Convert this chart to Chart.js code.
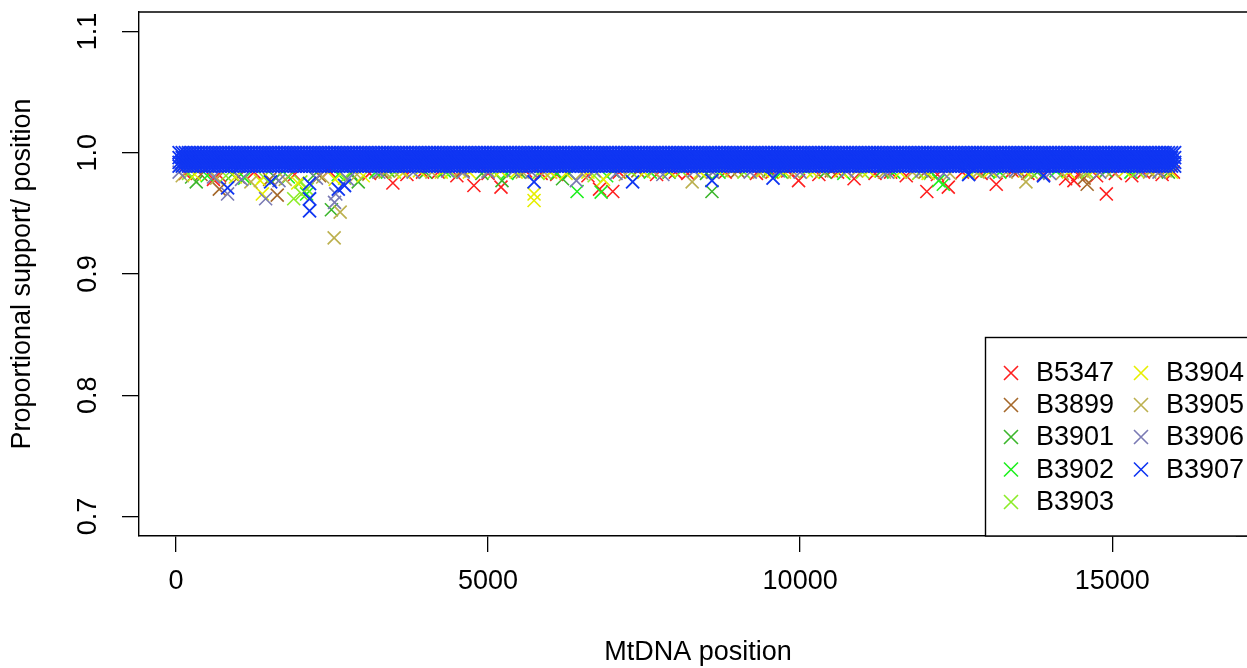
<!DOCTYPE html>
<html>
<head>
<meta charset="utf-8">
<script src="https://cdn.jsdelivr.net/npm/chart.js@4.4.0/dist/chart.umd.min.js"></script>
<style>
html,body{margin:0;padding:0;overflow:hidden;background:#fff;}
#chart{display:block;}
</style>
</head>
<body>
<canvas id="chart" width="1247" height="668"></canvas>
<script>
// Samples + colours
const samples = ["B5347","B3899","B3901","B3902","B3903","B3904","B3905","B3906","B3907"];
const colors = ["#ff1f1f","#a5682a","#3cb62c","#1ff01f","#8cec28","#e6ee00","#bcb04e","#7a7ab4","#1036f2"];

// Axis ticks
const xTicks = [0,5000,10000,15000];
const yTicks = [0.7,0.8,0.9,1.0,1.1];

// Dense band of B3907 (positions in bp, support levels)
const bandPositions = [
  50,100,150,200,250,300,350,400,450,500,550,600,650,700,750,800,850,900,950,1000,
  1050,1100,1150,1200,1250,1300,1350,1400,1450,1500,1550,1600,1650,1700,1750,1800,1850,1900,1950,2000,
  2050,2100,2150,2200,2250,2300,2350,2400,2450,2500,2550,2600,2650,2700,2750,2800,2850,2900,2950,3000,
  3050,3100,3150,3200,3250,3300,3350,3400,3450,3500,3550,3600,3650,3700,3750,3800,3850,3900,3950,4000,
  4050,4100,4150,4200,4250,4300,4350,4400,4450,4500,4550,4600,4650,4700,4750,4800,4850,4900,4950,5000,
  5050,5100,5150,5200,5250,5300,5350,5400,5450,5500,5550,5600,5650,5700,5750,5800,5850,5900,5950,6000,
  6050,6100,6150,6200,6250,6300,6350,6400,6450,6500,6550,6600,6650,6700,6750,6800,6850,6900,6950,7000,
  7050,7100,7150,7200,7250,7300,7350,7400,7450,7500,7550,7600,7650,7700,7750,7800,7850,7900,7950,8000,
  8050,8100,8150,8200,8250,8300,8350,8400,8450,8500,8550,8600,8650,8700,8750,8800,8850,8900,8950,9000,
  9050,9100,9150,9200,9250,9300,9350,9400,9450,9500,9550,9600,9650,9700,9750,9800,9850,9900,9950,10000,
  10050,10100,10150,10200,10250,10300,10350,10400,10450,10500,10550,10600,10650,10700,10750,10800,10850,10900,10950,11000,
  11050,11100,11150,11200,11250,11300,11350,11400,11450,11500,11550,11600,11650,11700,11750,11800,11850,11900,11950,12000,
  12050,12100,12150,12200,12250,12300,12350,12400,12450,12500,12550,12600,12650,12700,12750,12800,12850,12900,12950,13000,
  13050,13100,13150,13200,13250,13300,13350,13400,13450,13500,13550,13600,13650,13700,13750,13800,13850,13900,13950,14000,
  14050,14100,14150,14200,14250,14300,14350,14400,14450,14500,14550,14600,14650,14700,14750,14800,14850,14900,14950,15000,
  15050,15100,15150,15200,15250,15300,15350,15400,15450,15500,15550,15600,15650,15700,15750,15800,15850,15900,15950,16000
];
const bandLevels = [1.0,0.996,0.992,0.989];

// Points below the band for each sample [position, support]
const b5347 = [[150,0.983],[600,0.978],[700,0.981],[1250,0.984],[1900,0.982],[2450,0.985],[3100,0.983],[3475,0.975],[3700,0.982],
  [3950,0.984],[4200,0.984],[4500,0.981],[4773,0.973],[5000,0.983],[5207,0.9716],[5600,0.985],[5850,0.983],[6100,0.982],[6600,0.981],
  [6786,0.970],[6998,0.968],[7100,0.984],[7700,0.982],[8000,0.984],[8200,0.983],[8800,0.984],[9300,0.983],[9550,0.984],[9800,0.985],
  [9975,0.977],[10300,0.982],[10600,0.984],[10864,0.9785],[11200,0.983],[11450,0.984],[11700,0.981],[12030,0.968],[12200,0.982],
  [12374,0.9716],[12600,0.984],[12900,0.983],[13142,0.974],[13400,0.985],[13650,0.983],[13900,0.982],[14254,0.9785],[14387,0.977],
  [14450,0.982],[14750,0.981],[14906,0.966],[15050,0.983],[15314,0.981],[15500,0.984],[15800,0.982],[15980,0.984]];
const b3899 = [[400,0.982],[694,0.970],[1000,0.980],[1500,0.978],[1622,0.965],[2300,0.981],[3300,0.984],[4600,0.985],[6000,0.984],
  [7400,0.985],[9000,0.985],[10500,0.985],[12000,0.984],[13500,0.985],[14550,0.979],[14599,0.974],[15700,0.985]];
const b3901 = [[250,0.980],[324,0.976],[900,0.982],[1600,0.979],[2200,0.981],[2490,0.953],[2800,0.983],[2920,0.976],[3400,0.985],
  [4000,0.984],[4900,0.983],[5223,0.977],[5500,0.984],[6193,0.9785],[6300,0.983],[7000,0.985],[7900,0.984],[8500,0.983],[8587,0.968],
  [9500,0.985],[10400,0.984],[11300,0.985],[12100,0.984],[13000,0.985],[13800,0.984],[14900,0.985],[15900,0.984]];
const b3902 = [[500,0.981],[1100,0.979],[1800,0.980],[2093,0.966],[2600,0.982],[3200,0.984],[4300,0.985],[5300,0.983],[6100,0.983],
  [6426,0.968],[6812,0.9675],[6900,0.981],[7600,0.984],[8700,0.984],[9700,0.984],[10700,0.983],[11500,0.984],[12220,0.977],[12294,0.974],
  [13200,0.984],[14100,0.985],[15300,0.984]];
const b3903 = [[200,0.983],[800,0.981],[1400,0.980],[1886,0.962],[2000,0.976],[2013,0.966],[2100,0.970],[2700,0.979],[3500,0.984],
  [4400,0.984],[5100,0.984],[5800,0.983],[6700,0.981],[7300,0.984],[8100,0.985],[9100,0.984],[10100,0.985],[11000,0.984],[11900,0.983],
  [12800,0.985],[13700,0.984],[14600,0.984],[15400,0.985]];
const b3904 = [[300,0.982],[950,0.980],[1350,0.977],[1383,0.966],[1950,0.975],[2550,0.978],[3000,0.981],[3650,0.984],[3900,0.985],
  [4250,0.984],[4700,0.984],[5200,0.985],[5450,0.984],[5737,0.9606],[5737,0.966],[6000,0.984],[6250,0.983],[6600,0.984],[6850,0.978],
  [7500,0.984],[7900,0.985],[8400,0.984],[8750,0.985],[9400,0.985],[9750,0.984],[10200,0.984],[10650,0.985],[11100,0.985],[11600,0.984],
  [12050,0.983],[12700,0.984],[13050,0.985],[13600,0.985],[14300,0.984],[14700,0.985],[15200,0.985],[15600,0.985],[15950,0.984]];
const b3905 = [[100,0.981],[650,0.979],[1200,0.976],[1750,0.978],[2350,0.980],[2534,0.9298],[2630,0.951],[2900,0.982],[3350,0.984],
  [3600,0.985],[4100,0.984],[4550,0.985],[5000,0.985],[5550,0.984],[5900,0.984],[6500,0.983],[7200,0.982],[7650,0.985],[8270,0.976],
  [8600,0.984],[8900,0.985],[9350,0.984],[9900,0.984],[10350,0.985],[10900,0.985],[11350,0.984],[11800,0.984],[12400,0.983],[12850,0.984],
  [13300,0.984],[13618,0.976],[14200,0.983],[14550,0.984],[15000,0.985],[15600,0.984],[15850,0.985]];
const b3906 = [[50,0.984],[600,0.980],[826,0.966],[1050,0.978],[1436,0.962],[1650,0.977],[2250,0.979],[2540,0.959],[2560,0.966],
  [2750,0.978],[3250,0.984],[3800,0.984],[4350,0.985],[4600,0.984],[5000,0.984],[5400,0.985],[5700,0.984],[6415,0.977],[6700,0.985],
  [7050,0.983],[7800,0.982],[8300,0.985],[8600,0.984],[9200,0.984],[9650,0.985],[10000,0.984],[10750,0.985],[11400,0.984],[11950,0.985],
  [12300,0.983],[13100,0.984],[13450,0.985],[14000,0.983],[14800,0.984],[15450,0.985],[15750,0.984]];
const b3907 = [[826,0.971],[1516,0.976],[2140,0.962],[2140,0.952],[2140,0.9745],[2600,0.970],[2700,0.973],[5737,0.976],[7316,0.976],
  [8587,0.977],[9566,0.979],[12700,0.982],[13900,0.981]];

const pointSets = [b5347,b3899,b3901,b3902,b3903,b3904,b3905,b3906,b3907];

// Build datasets
const datasets = samples.map((name,i)=>{
  const pts = pointSets[i].map(p=>({x:p[0], y:p[1]}));
  if(name==="B3907"){
    bandLevels.forEach(v=> bandPositions.forEach(x=> pts.push({x:x, y:v})));
  }
  return {
    label:name,
    data:pts,
    pointStyle:"crossRot",
    pointRadius:9.2,
    pointBorderWidth:name==="B3907" ? 1.9 : 1.6,
    borderColor:colors[i],
    backgroundColor:colors[i],
    showLine:false,
    order:samples.length-1-i
  };
});

const FONT = "'Liberation Sans', Arial, Helvetica, sans-serif";

// Frame top line, rotated y labels, x title, legend
const extras = {
  id:"extras",
  afterDraw(chart){
    const ctx = chart.ctx;
    const a = chart.chartArea;
    const ys = chart.scales.y;
    ctx.save();
    ctx.strokeStyle = "#000";
    ctx.lineWidth = 1.4;
    ctx.beginPath();
    ctx.moveTo(a.left, a.top);
    ctx.lineTo(chart.width, a.top);
    ctx.moveTo(a.right, a.bottom);
    ctx.lineTo(chart.width, a.bottom);
    ctx.stroke();

    // y tick labels (parallel to axis)
    ctx.fillStyle = "#000";
    ctx.font = "27px " + FONT;
    ctx.textAlign = "center";
    ctx.textBaseline = "middle";
    yTicks.forEach(v=>{
      const py = ys.getPixelForValue(v);
      ctx.save();
      ctx.translate(89, py);
      ctx.rotate(-Math.PI/2);
      ctx.fillText(v.toFixed(1), 0, 0);
      ctx.restore();
    });

    // x title (centred on the full plot region, which runs past the edge)
    ctx.fillText("MtDNA position", 698, 653);

    // legend box
    ctx.fillStyle = "#fff";
    ctx.fillRect(985, 337, 300, a.bottom-337);
    ctx.strokeStyle = "#000";
    ctx.lineWidth = 1.4;
    ctx.strokeRect(985.5, 337.5, 300, a.bottom-337.5);
    const rowsY = [373,405,437,469.5,502];
    samples.forEach((name,i)=>{
      const col = i<5 ? 0 : 1;
      const row = i<5 ? i : i-5;
      const mx = col===0 ? 1011 : 1141;
      const my = rowsY[row];
      ctx.strokeStyle = colors[i];
      ctx.lineWidth = 1.6;
      ctx.beginPath();
      ctx.moveTo(mx-7, my-7); ctx.lineTo(mx+7, my+7);
      ctx.moveTo(mx-7, my+7); ctx.lineTo(mx+7, my-7);
      ctx.stroke();
      ctx.fillStyle = "#000";
      ctx.textAlign = "left";
      ctx.fillText(name, mx+25, my+1);
    });
    ctx.restore();
  }
};

new Chart(document.getElementById("chart"),{
  type:"scatter",
  data:{datasets:datasets},
  options:{
    responsive:false,
    animation:false,
    events:[],
    layout:{padding:{top:12,right:0,left:0,bottom:0}},
    plugins:{legend:{display:false}, tooltip:{enabled:false}},
    scales:{
      x:{
        type:"linear", min:-593, max:16982,
        afterBuildTicks:s=>{ s.ticks = xTicks.map(v=>({value:v})); },
        afterFit:s=>{ s.height = 132; s.paddingLeft = 0; s.paddingRight = 0; },
        grid:{drawOnChartArea:false, drawTicks:true, tickLength:16, color:"#000", lineWidth:1.3},
        border:{display:true, color:"#000", width:1.4},
        ticks:{color:"#000", font:{family:FONT, size:27}, padding:13, maxRotation:0, autoSkip:false, callback:v=>String(v)},
        title:{display:false}
      },
      y:{
        type:"linear", min:0.684, max:1.116,
        afterBuildTicks:s=>{ s.ticks = yTicks.map(v=>({value:v})); },
        afterFit:s=>{ s.width = 139; s.paddingTop = 0; s.paddingBottom = 0; },
        grid:{drawOnChartArea:false, drawTicks:true, tickLength:17, color:"#000", lineWidth:1.3},
        border:{display:true, color:"#000", width:1.4},
        ticks:{display:false},
        title:{display:true, text:"Proportional support/ position", color:"#000", font:{family:FONT, size:27, lineHeight:1.1}, padding:{top:8,bottom:0}}
      }
    }
  },
  plugins:[extras]
});
</script>
</body>
</html>
